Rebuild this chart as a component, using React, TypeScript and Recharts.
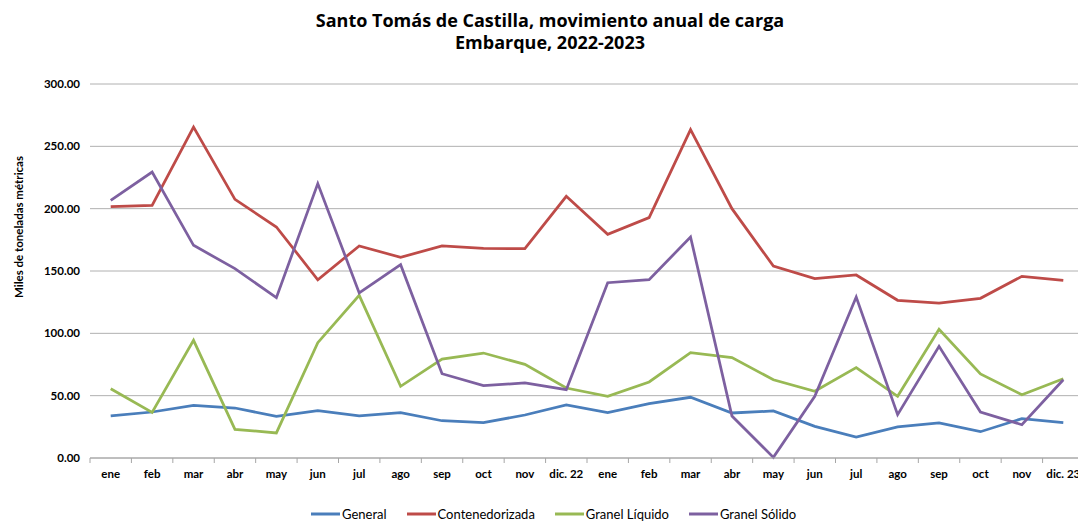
import React from 'react';
import { LineChart, Line, XAxis, YAxis, CartesianGrid, Legend } from 'recharts';

const periods = [
  '2022-01', '2022-02', '2022-03', '2022-04', '2022-05', '2022-06',
  '2022-07', '2022-08', '2022-09', '2022-10', '2022-11', '2022-12',
  '2023-01', '2023-02', '2023-03', '2023-04', '2023-05', '2023-06',
  '2023-07', '2023-08', '2023-09', '2023-10', '2023-11', '2023-12',
];
const tickLabels = [
  'ene', 'feb', 'mar', 'abr', 'may', 'jun', 'jul', 'ago', 'sep', 'oct', 'nov', 'dic. 22',
  'ene', 'feb', 'mar', 'abr', 'may', 'jun', 'jul', 'ago', 'sep', 'oct', 'nov', 'dic. 23',
];
const general = [33.7, 36.9, 42.2, 40.1, 33.4, 38.0, 33.7, 36.4, 29.9, 28.3, 34.5, 42.5, 36.4, 43.6, 48.7, 36.1, 37.7, 25.4, 16.8, 24.9, 28.1, 21.1, 31.6, 28.3];
const contenedorizada = [201.6, 202.7, 265.5, 207.5, 185.3, 143.0, 170.1, 161.0, 170.1, 168.2, 167.9, 209.9, 179.4, 192.8, 263.4, 200.0, 154.0, 143.9, 146.8, 126.5, 124.3, 128.1, 145.7, 142.5];
const granelLiquido = [55.6, 36.6, 94.4, 23.0, 20.1, 92.5, 130.5, 57.5, 79.4, 84.2, 75.1, 56.1, 49.5, 61.0, 84.5, 80.5, 62.8, 53.5, 72.5, 49.5, 103.2, 67.4, 50.8, 63.6];
const granelSolido = [206.7, 229.4, 170.6, 151.9, 128.6, 220.1, 132.4, 155.1, 67.6, 58.0, 60.2, 54.8, 140.6, 143.0, 177.3, 33.7, 0.5, 49.5, 129.1, 34.8, 89.6, 36.9, 26.7, 62.8];
const yTicks = [0, 50, 100, 150, 200, 250, 300];

const seriesInfo = [
  { key: 'general', name: 'General', color: '#4A7EBB' },
  { key: 'contenedorizada', name: 'Contenedorizada', color: '#BE4B48' },
  { key: 'liquido', name: 'Granel Líquido', color: '#98B954' },
  { key: 'solido', name: 'Granel Sólido', color: '#7D60A0' },
];

const data = periods.map((p, i) => ({
  periodo: p,
  general: general[i],
  contenedorizada: contenedorizada[i],
  liquido: granelLiquido[i],
  solido: granelSolido[i],
}));

const FONT = 'Lato, "Open Sans", sans-serif';
const TITLE_FONT = '"Open Sans", Lato, sans-serif';

const XTick = (props: any) => {
  const { x, y, payload, index } = props;
  const half = payload && typeof payload.offset === 'number' && payload.offset > 0 ? payload.offset : 20.7;
  return (
    <g>
      <line x1={x - half} x2={x - half} y1={y} y2={y + 5} stroke="#a6a6a6" strokeWidth={1} />
      {index === periods.length - 1 ? (
        <line x1={x + half} x2={x + half} y1={y} y2={y + 5} stroke="#a6a6a6" strokeWidth={1} />
      ) : null}
      <text x={x} y={y + 20} textAnchor="middle" fontFamily={FONT} fontWeight="bold" fontSize={11.5} fill="#000">
        {tickLabels[index]}
      </text>
    </g>
  );
};

const LegendContent = () => (
  <div style={{ display: 'flex', alignItems: 'center', fontFamily: FONT, fontSize: 13, lineHeight: '16px', color: '#000' }}>
    {seriesInfo.map((s) => (
      <div key={s.key} style={{ display: 'flex', alignItems: 'center', marginRight: 20 }}>
        <svg width={29} height={6} style={{ marginRight: 2 }}>
          <line x1={0} x2={29} y1={3} y2={3} stroke={s.color} strokeWidth={3} />
        </svg>
        <span>{s.name}</span>
      </div>
    ))}
  </div>
);

export default function App() {
  return (
    <div style={{ position: 'absolute', top: 0, left: 0, width: 1078, height: 522, overflow: 'hidden', background: '#fff' }}>
      <div
        style={{
          position: 'absolute',
          top: 9,
          left: 0,
          width: 1100,
          textAlign: 'center',
          fontFamily: TITLE_FONT,
          fontWeight: 'bold',
          fontSize: 18,
          lineHeight: '22px',
          color: '#000',
          zIndex: 2,
        }}
      >
        <div>Santo Tomás de Castilla, movimiento anual de carga</div>
        <div>Embarque, 2022-2023</div>
      </div>
      <LineChart
        width={1100}
        height={522}
        data={data}
        margin={{ top: 84, right: 16, bottom: 34, left: 0 }}
      >
        <CartesianGrid vertical={false} stroke="#b0b0b0" strokeWidth={1} />
        <XAxis
          dataKey="periodo"
          scale="band"
          height={30}
          interval={0}
          axisLine={{ stroke: '#a6a6a6' }}
          tickLine={false}
          tickSize={0}
          tickMargin={0}
          tick={<XTick />}
        />
        <YAxis
          width={90}
          domain={[0, 300]}
          ticks={yTicks}
          interval={0}
          axisLine={false}
          tickLine={false}
          tickSize={8}
          tickMargin={2}
          tickFormatter={(v: number) => v.toFixed(2)}
          tick={{ fontFamily: FONT, fontWeight: 'bold', fontSize: 11.5, fill: '#000' }}
          label={{
            content: () => (
              <text
                x={18}
                y={227}
                transform="rotate(-90 18 227)"
                textAnchor="middle"
                dominantBaseline="central"
                fontFamily={FONT}
                fontWeight="bold"
                fontSize={11.5}
                fill="#000"
              >
                Miles de toneladas métricas
              </text>
            ),
          }}
        />
        <Legend
          layout="horizontal"
          verticalAlign="middle"
          align="center"
          content={<LegendContent />}
          wrapperStyle={{ position: 'absolute', top: 506, left: 311, width: 'auto' }}
        />
        {seriesInfo.map((s) => (
          <Line
            key={s.key}
            type="linear"
            dataKey={s.key}
            name={s.name}
            stroke={s.color}
            strokeWidth={2.75}
            dot={false}
            activeDot={false}
            isAnimationActive={false}
          />
        ))}
      </LineChart>
    </div>
  );
}
